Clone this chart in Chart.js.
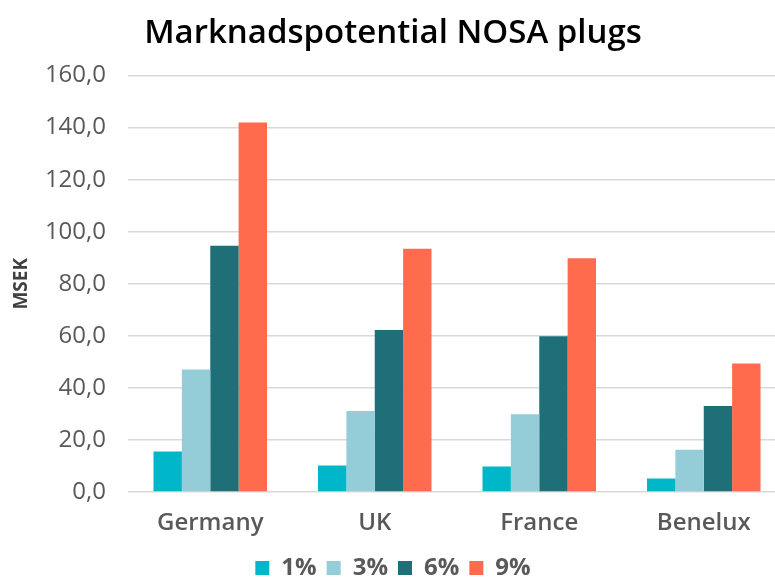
<!DOCTYPE html>
<html>
<head>
<meta charset="utf-8">
<script src="https://cdn.jsdelivr.net/npm/chart.js@4"></script>
<style>
html,body{margin:0;padding:0;background:#fff;overflow:hidden;width:775px;height:578px;}
#wrap{position:absolute;left:0;top:0;width:786px;height:578px;}
</style>
</head>
<body>
<div id="wrap"><canvas id="c" width="786" height="578"></canvas></div>
<script>
const categories = ["Germany", "UK", "France", "Benelux"];
const seriesLabels = ["1%", "3%", "6%", "9%"];
const values1 = [15.6, 10.2, 9.8, 5.2];
const values3 = [47.1, 31.1, 29.9, 16.2];
const values6 = [94.6, 62.2, 59.8, 33.0];
const values9 = [142.0, 93.5, 89.8, 49.4];
const yTicks = [0, 20, 40, 60, 80, 100, 120, 140, 160];
const colors = ["#00B7C9", "#94CDD8", "#1E6F78", "#FF6B4C"];

const allValues = [values1, values3, values6, values9];
const fontFam = "'Open Sans', sans-serif";

new Chart(document.getElementById('c'), {
  type: 'bar',
  data: {
    labels: categories,
    datasets: allValues.map((v, i) => ({
      label: seriesLabels[i],
      data: v,
      backgroundColor: colors[i],
      borderWidth: 0,
      categoryPercentage: 0.69,
      barPercentage: 1.0
    }))
  },
  options: {
    responsive: false,
    animation: false,
    devicePixelRatio: 1,
    layout: { padding: { left: 0, right: 0, top: 4, bottom: -12 } },
    plugins: {
      title: {
        display: true,
        text: "Marknadspotential NOSA plugs",
        color: "#000",
        font: { family: fontFam, size: 33, weight: '600' },
        padding: { top: 10, bottom: 22 }
      },
      legend: {
        position: 'bottom',
        labels: {
          color: "#595959",
          font: { family: fontFam, size: 24, weight: 'bold' },
          boxWidth: 14,
          boxHeight: 14,
          padding: 10
        }
      },
      tooltip: { enabled: false }
    },
    scales: {
      x: {
        grid: { display: false, drawTicks: false },
        border: { display: false },
        afterFit: (axis) => { axis.height = 54; },
        ticks: {
          color: "#595959",
          font: { family: fontFam, size: 24, weight: '600' },
          padding: 17
        }
      },
      y: {
        min: 0, max: 160,
        afterBuildTicks: (axis) => { axis.ticks = yTicks.map(v => ({ value: v })); },
        afterFit: (axis) => { axis.width = 128; },
        grid: { color: "#D9D9D9", lineWidth: 1.5, drawTicks: false },
        border: { display: false },
        title: {
          display: true,
          text: "MSEK",
          color: "#404040",
          font: { family: fontFam, size: 19, weight: 'bold' },
          padding: { top: 10, bottom: 4 }
        },
        ticks: {
          color: "#595959",
          font: { family: fontFam, size: 24 },
          padding: 22,
          callback: (v) => Number(v).toFixed(1).replace('.', ',')
        }
      }
    }
  }
});
</script>
</body>
</html>
